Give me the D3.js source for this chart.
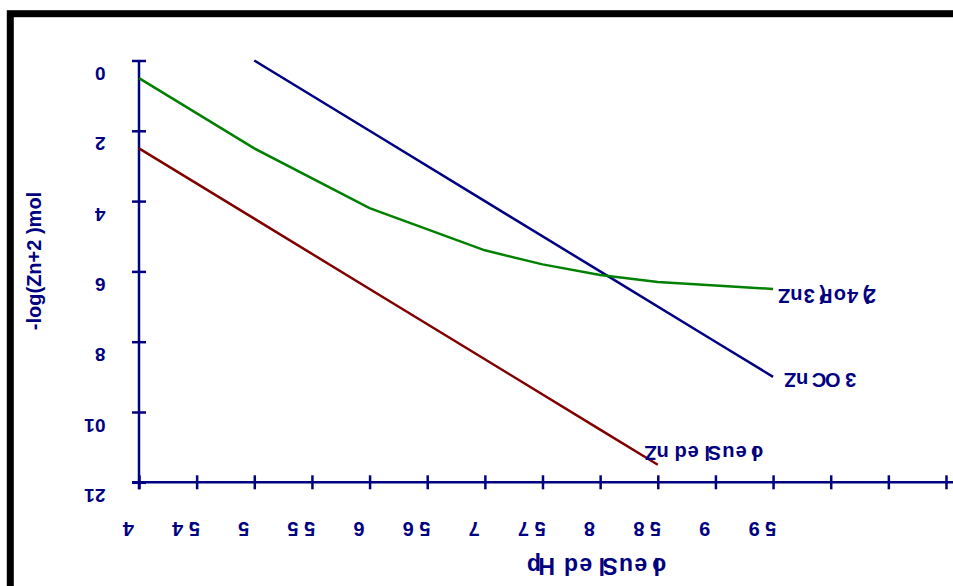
<!DOCTYPE html>
<html lang="es">
<head>
    <meta charset="UTF-8">
    <title>-log(Zn+2) vs pH del Suelo</title>
    <script src="https://d3js.org/d3.v7.min.js"></script>
    <style>
        body { margin: 0; background: #fff; }
        text { font-family: "Liberation Sans", Arial, sans-serif; font-weight: bold; fill: #000080; }
    </style>
</head>
<body>
<div id="chart"></div>
<script>
    // ticks del eje x (pH) y del eje y
    const xTicks = [4, 4.5, 5, 5.5, 6, 6.5, 7, 7.5, 8, 8.5, 9, 9.5, 10, 10.5, 11];
    const xTickLabels = ["4", "4.5", "5", "5.5", "6", "6.5", "7", "7.5", "8", "8.5", "9", "9.5", "", "", ""];
    const yTicks = [0, 2, 4, 6, 8, 10, 12];

    // ZnCO3
    const phCO3 = [5, 6, 7, 8, 9, 9.5];
    const znCO3 = [0, 2, 4, 6, 8, 9];
    // Zn3(PO4)2
    const phPO4 = [4, 5, 6, 7, 7.5, 8, 8.5, 9, 9.5];
    const znPO4 = [0.5, 2.5, 4.2, 5.4, 5.8, 6.1, 6.3, 6.4, 6.5];
    // Zn del Suelo
    const phSuelo = [4, 5, 6, 7, 8, 8.5];
    const znSuelo = [2.5, 4.5, 6.5, 8.5, 10.5, 11.5];

    const width = 953, height = 586;

    const svg = d3.select("#chart").append("svg")
        .attr("width", width)
        .attr("height", height);

    // marco negro
    svg.append("rect")
        .attr("x", 10.3).attr("y", 13.7)
        .attr("width", 980).attr("height", 620)
        .attr("fill", "none")
        .attr("stroke", "#000")
        .attr("stroke-width", 7);

    const x = d3.scaleLinear().domain([4, 11]).range([139, 946]);
    const y = d3.scaleLinear().domain([0, 12]).range([60.5, 482.3]);

    // texto con cada letra girada 180 grados
    function flipText(sel) {
        sel.attr("rotate", 180);
    }

    // eje y
    const gy = svg.append("g")
        .attr("transform", `translate(${x(4)},0)`)
        .call(d3.axisLeft(y).tickValues(yTicks).tickSize(7).tickSizeOuter(0).tickFormat(d3.format("d")));
    gy.select(".domain").attr("stroke", "#000080").attr("stroke-width", 2.5)
        .attr("d", `M0,${y(0)}V${y(12) + 7}`);
    gy.selectAll(".tick line").attr("stroke", "#000080").attr("stroke-width", 2.5).attr("x1", 7);
    gy.selectAll(".tick text")
        .attr("x", -23).attr("y", 6).attr("dy", 0)
        .attr("text-anchor", "end")
        .attr("font-size", 19)
        .attr("fill", "#000080")
        .call(flipText);

    // eje x
    const gx = svg.append("g")
        .attr("transform", `translate(0,${y(12)})`)
        .call(d3.axisBottom(x).tickValues(xTicks).tickSize(7).tickSizeOuter(0)
            .tickFormat((d, i) => xTickLabels[i]));
    gx.select(".domain").attr("stroke", "#000080").attr("stroke-width", 2.5)
        .attr("d", `M${x(4) - 7},0H953`);
    gx.selectAll(".tick line").attr("stroke", "#000080").attr("stroke-width", 2.5).attr("y1", -7);
    gx.selectAll(".tick text")
        .attr("y", 40).attr("dy", 0)
        .attr("text-anchor", "middle")
        .attr("font-size", 20)
        .attr("fill", "#000080")
        .call(flipText);

    // lineas
    const line = d3.line().x(d => x(d[0])).y(d => y(d[1]));
    const series = [
        { ph: phCO3, zn: znCO3, color: "#000080" },
        { ph: phPO4, zn: znPO4, color: "#008000" },
        { ph: phSuelo, zn: znSuelo, color: "#800000" }
    ];
    series.forEach(s => {
        svg.append("path")
            .datum(s.ph.map((p, i) => [p, s.zn[i]]))
            .attr("d", line)
            .attr("fill", "none")
            .attr("stroke", s.color)
            .attr("stroke-width", 2.5);
    });

    // etiquetas de las curvas
    const curveLabels = [
        { text: "Zn CO3", ph: 9.7, zn: 8.9 },
        { text: "Zn3(Po4)2", ph: 9.65, zn: 6.5 },
        { text: "Zn del Suelo", ph: 8.49, zn: 10.97 }
    ];
    svg.selectAll(".curve-label")
        .data(curveLabels)
        .enter().append("text")
        .attr("class", "curve-label")
        .attr("x", d => x(d.ph))
        .attr("y", d => y(d.zn))
        .attr("font-size", 20)
        .text(d => d.text)
        .call(flipText);

    // titulos de los ejes
    svg.append("text")
        .attr("x", 541)
        .attr("y", 558)
        .attr("font-size", 23)
        .text("pH  del Suelo")
        .call(flipText);

    svg.append("text")
        .attr("transform", "translate(41,261) rotate(-90)")
        .attr("text-anchor", "middle")
        .attr("font-size", 20)
        .text("-log(Zn+2    )mol");
</script>
</body>
</html>
